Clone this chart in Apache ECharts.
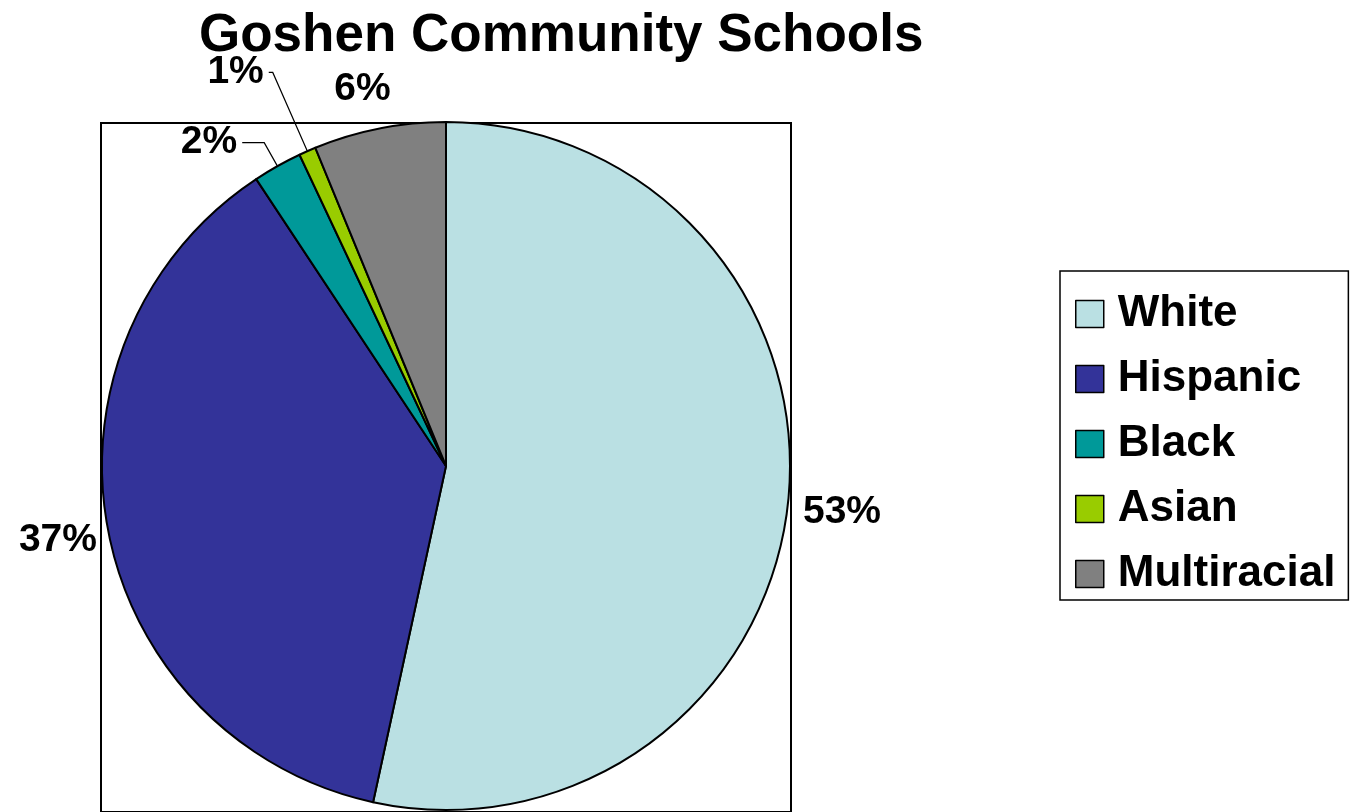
<!DOCTYPE html>
<html>
<head>
<meta charset="utf-8">
<script src="https://cdn.jsdelivr.net/npm/echarts@6/dist/echarts.min.js"></script>
<style>
html,body{margin:0;padding:0;background:#fff;}
#chart{width:1351px;height:812px;}
</style>
</head>
<body>
<div id="chart"></div>
<script>
// ---- data ----
const titleText = 'Goshen Community Schools';
const categories = ['White', 'Hispanic', 'Black', 'Asian', 'Multiracial'];
const values = [53.4, 37.3, 2.3, 0.8, 6.2];
const colors = ['#BAE0E3', '#333399', '#009999', '#99CC00', '#808080'];

// ---- per-slice label styling (line lengths, offsets) ----
const labelLineLen = [8, 4, 27, 86, 40];
const labelLineLen2 = [2, 0, 22, 4, 0];
const labelLineShow = [false, false, true, true, false];
const labelShift = [[0, 9], [-2, 10], [0, 0], [0, 0], [24, 0]];

const font = '"Liberation Sans", Arial, sans-serif';

const data = categories.map((name, i) => ({
  name: name,
  value: values[i],
  itemStyle: { color: colors[i] },
  labelLine: { show: labelLineShow[i], length: labelLineLen[i], length2: labelLineLen2[i] }
}));

const chart = echarts.init(document.getElementById('chart'), null, { renderer: 'canvas' });
chart.setOption({
  animation: false,
  backgroundColor: '#ffffff',
  title: {
    text: titleText,
    left: 199,
    top: 10,
    padding: 0,
    textStyle: { fontFamily: font, fontWeight: 'bold', fontSize: 53, color: '#000' }
  },
  grid: {
    show: true,
    left: 101, top: 123, width: 690, height: 760,
    borderColor: '#000', borderWidth: 2, backgroundColor: 'transparent'
  },
  xAxis: { type: 'value', show: false },
  yAxis: { type: 'value', show: false },
  legend: {
    orient: 'vertical',
    left: 1060,
    top: 271,
    padding: [21, 13, 4, 15],
    borderColor: '#000',
    borderWidth: 1.5,
    itemWidth: 28,
    itemHeight: 27,
    itemGap: 21,
    icon: 'rect',
    data: categories,
    itemStyle: { borderColor: '#000', borderWidth: 1.5 },
    textStyle: { fontFamily: font, fontWeight: 'bold', fontSize: 44, lineHeight: 44, color: '#000', padding: [0, 0, 0, 9] }
  },
  series: [{
    type: 'pie',
    center: [446, 466],
    radius: 344,
    startAngle: 90,
    clockwise: true,
    avoidLabelOverlap: false,
    emphasis: { disabled: true },
    itemStyle: { borderColor: '#000', borderWidth: 2 },
    label: {
      show: true,
      position: 'outside',
      distanceToLabelLine: 5,
      fontFamily: font,
      fontWeight: 'bold',
      fontSize: 39,
      color: '#000',
      formatter: p => Math.round(p.percent) + '%'
    },
    labelLine: { lineStyle: { color: '#000', width: 1.2 }, smooth: false, minTurnAngle: 0, maxSurfaceAngle: 180 },
    labelLayout: p => ({ dx: labelShift[p.dataIndex][0], dy: labelShift[p.dataIndex][1] }),
    data: data
  }]
});
</script>
</body>
</html>
